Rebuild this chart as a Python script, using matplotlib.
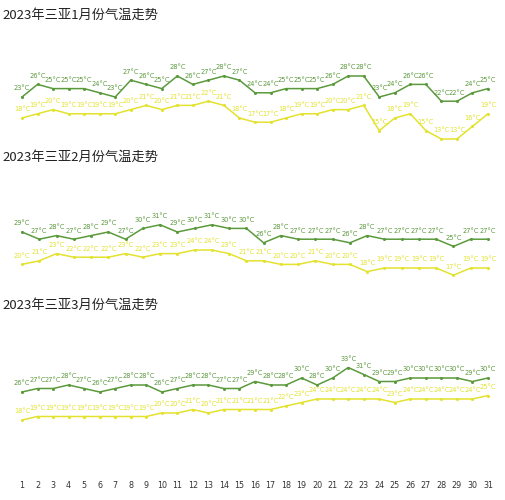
import matplotlib
matplotlib.use("Agg")
import matplotlib.pyplot as plt
import numpy as np

plt.rcParams['font.family'] = ['Noto Sans CJK SC', 'DejaVu Sans']

titles = ["2023年三亚1月份气温走势", "2023年三亚2月份气温走势", "2023年三亚3月份气温走势"]
jan_high = [23,26,25,25,25,24,23,27,26,25,28,26,27,28,27,24,24,25,25,25,26,28,28,23,24,26,26,22,22,24,25]
jan_low = [18,19,20,19,19,19,19,20,21,20,21,21,22,21,18,17,17,18,19,19,20,20,21,15,18,19,15,13,13,16,19]
feb_high = [29,27,28,27,28,29,27,30,31,29,30,31,30,30,26,28,27,27,27,26,28,27,27,27,27,25,27,27]
feb_low = [20,21,23,22,22,22,23,22,23,23,24,24,23,21,21,20,20,21,20,20,18,19,19,19,19,17,19,19]
mar_high = [26,27,27,28,27,26,27,28,28,26,27,28,28,27,27,29,28,28,30,28,30,33,31,29,29,30,30,30,30,29,30]
mar_low = [18,19,19,19,19,19,19,19,19,20,20,21,20,21,21,21,21,22,23,24,24,24,24,24,23,24,24,24,24,24,25]
day_labels = [str(d) for d in range(1, 32)]

GREEN = '#5b9a3c'
YELLOW = '#e3e22e'
W, H = 506, 500
fig = plt.figure(figsize=(W/100, H/100), dpi=100)

specs = [
    (40, 150, 23 + (97-40)/4.2, 23 - (150-97)/4.2, jan_high, jan_low, 15),
    (190, 290, 29 + (232-190)/3.6, 29 - (290-232)/3.6, feb_high, feb_low, 157),
    (330, 478, 26 + (392-330)/3.5, 26 - (478-392)/3.5, mar_high, mar_low, 305),
]
x0, x1 = 22, 488
for i, (tp, bp, yt, yb, hi, lo, ty) in enumerate(specs):
    ax = fig.add_axes([x0/W, 1-bp/H, (x1-x0)/W, (bp-tp)/H])
    n = len(hi)
    x = np.arange(1, n+1)
    ax.set_xlim(1, n)
    ax.set_ylim(yb, yt)
    for ser, col in ((hi, GREEN), (lo, YELLOW)):
        ax.plot(x, ser, color=col, lw=1.1, marker='o', ms=1.2, clip_on=False)
        for xi, v in zip(x, ser):
            ax.annotate(f"{v}°C", (xi, v), xytext=(0, 4), textcoords='offset points',
                        ha='center', va='bottom', fontsize=4.8, color=col,
                        family=['DejaVu Sans'])
    for s in ax.spines.values():
        s.set_visible(False)
    ax.set_yticks([])
    if i == 2:
        ax.set_xticks(x)
        ax.set_xticklabels(day_labels, fontsize=5.8, color='#333333', family=['DejaVu Sans'])
        ax.tick_params(axis='x', length=0, pad=2)
    else:
        ax.set_xticks([])
    fig.text(2/W, 1-ty/H, titles[i], fontsize=9.5, color='#222222', va='center', ha='left')

fig.savefig("out.png", dpi=100, facecolor='white')
